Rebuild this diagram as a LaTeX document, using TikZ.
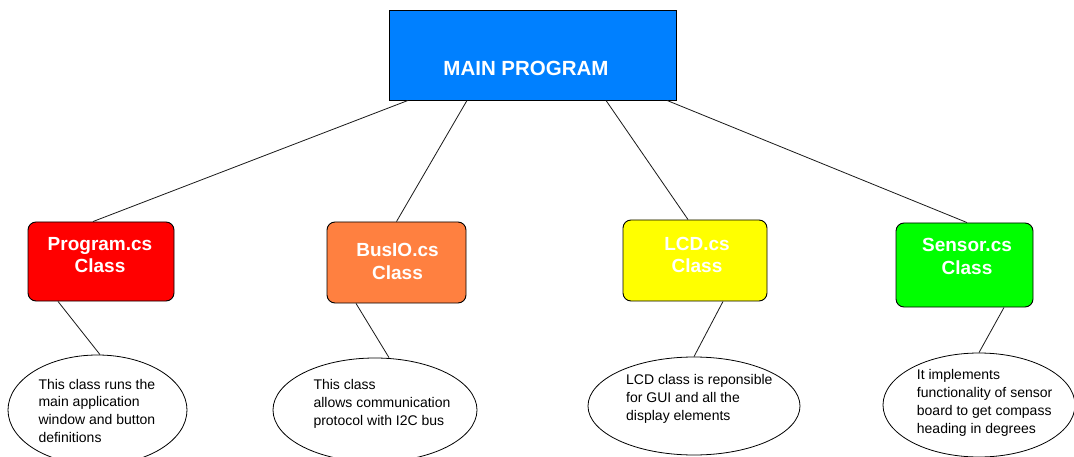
\documentclass[tikz,border=0pt]{standalone}
\usepackage{fontspec}
\setmainfont{Liberation Sans}
\usetikzlibrary{shapes.geometric}
\definecolor{mainblue}{RGB}{0,128,255}
\definecolor{progred}{RGB}{255,0,0}
\definecolor{busorange}{RGB}{255,128,64}
\definecolor{lcdyellow}{RGB}{255,255,0}
\definecolor{sensgreen}{RGB}{0,255,0}
\definecolor{inkline}{RGB}{25,25,25}
\begin{document}
\begin{tikzpicture}[x=1pt,y=-1pt,
  link/.style={draw=inkline, line width=0.8pt},
  classbox/.style={draw=black, line width=0.9pt, rounded corners=8pt, inner sep=0pt},
  classtext/.style={text=white, font=\bfseries\fontsize{19}{22.5}\selectfont, align=center, inner sep=0pt},
  note/.style={ellipse, draw=black, line width=0.8pt, fill=white, inner sep=0pt},
  notetext/.style={font=\fontsize{14}{17.9}\selectfont, align=left, anchor=base west, inner sep=0pt}]
\useasboundingbox (0,0) rectangle (1074,457);
\fill[white] (0,0) rectangle (1074,457);
\clip (0,0) rectangle (1074,457);

% top-level program box
\node[draw=black, line width=0.9pt, fill=mainblue, minimum width=287pt, minimum height=90pt, inner sep=0pt] (main) at (532.5,55) {};
\node[text=white, font=\bfseries\fontsize{20.5}{24}\selectfont, inner sep=0pt, anchor=base] (maintitle) at (526,76) {MAIN PROGRAM};

% class boxes
\node[classbox, fill=progred, minimum width=146pt, minimum height=79pt] (prog) at (101,261.5) {};
\node[classtext] (progtext) at (100,255) {Program.cs\\Class};

\node[classbox, fill=busorange, minimum width=139pt, minimum height=81pt] (bus) at (396.5,262.5) {};
\node[classtext] (bustext) at (397.5,261.5) {BusIO.cs\\Class};

\node[classbox, fill=lcdyellow, minimum width=144pt, minimum height=81pt] (lcd) at (695,260.5) {};
\node[classtext] (lcdtext) at (697,255) {LCD.cs\\Class};

\node[classbox, fill=sensgreen, minimum width=137pt, minimum height=84pt] (sens) at (964.5,265) {};
\node[classtext] (senstext) at (967,256.5) {Sensor.cs\\Class};

% description ellipses (text anchored at the baseline of its last line)
\node[note, minimum width=179pt, minimum height=110pt] (eprog) at (97.5,410) {};
\node[notetext] (eprogtext) at (38.3,442.7) {This class runs the\\main application\\window and button\\definitions};

\node[note, minimum width=204pt, minimum height=104pt] (ebus) at (375,410) {};
\node[notetext] (ebustext) at (313.3,425) {This class\\allows communication\\protocol with I2C bus};

\node[note, minimum width=212pt, minimum height=98pt] (elcd) at (694,406) {};
\node[notetext] (elcdtext) at (626,420.7) {LCD class is reponsible\\for GUI and all the\\display elements};

\node[note, minimum width=192pt, minimum height=104pt] (esens) at (979,405) {};
\node[notetext] (esenstext) at (916.7,433) {It implements\\functionality of sensor\\board to get compass\\heading in degrees};

% connectors from the main program to the classes
\draw[link] ([xshift=-124.5pt]main.south) -- ([xshift=-8pt]prog.north);
\draw[link] ([xshift=-65.5pt]main.south) -- (bus.north);
\draw[link] ([xshift=73.5pt]main.south) -- ([xshift=-7pt]lcd.north);
\draw[link] ([xshift=134.5pt]main.south) -- ([xshift=2.5pt]sens.north);

% connectors from the classes to their descriptions
\draw[link] ([xshift=-43pt]prog.south) -- ([xshift=2.5pt]eprog.north);
\draw[link] ([xshift=-40.5pt]bus.south) -- ([xshift=14pt]ebus.north);
\draw[link] ([xshift=28pt]lcd.south) -- (elcd.north);
\draw[link] ([xshift=39.5pt]sens.south) -- (esens.north);
\end{tikzpicture}
\end{document}
